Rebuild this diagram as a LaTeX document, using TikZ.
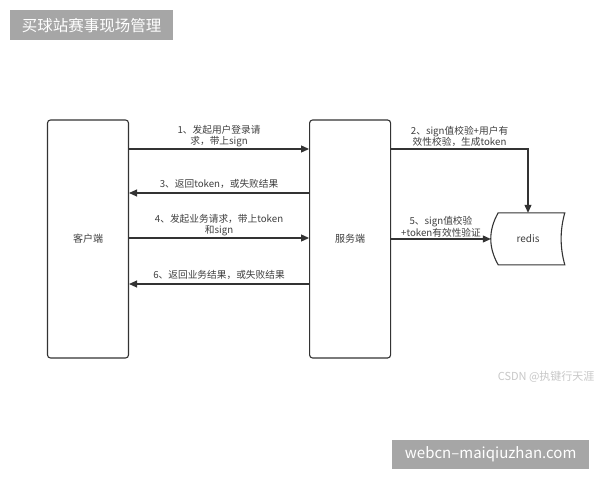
\documentclass[tikz,border=0pt]{standalone}
\usepackage{fontspec}
\setmainfont{Noto Sans CJK SC}
\usepackage{tikz}
\usetikzlibrary{arrows.meta, positioning, calc}
\definecolor{linegray}{HTML}{333333}
\definecolor{textgray}{HTML}{404040}
\definecolor{bannergray}{HTML}{A6A6A6}
\definecolor{markgray}{HTML}{C8C8C8}

\begin{document}
\begin{tikzpicture}[
    x=1pt, y=-1pt,
    font=\fontsize{9.7}{11.5}\selectfont,
    party/.style={rectangle, draw=linegray, line width=1.1pt, rounded corners=3pt, minimum width=81pt, minimum height=238pt, inner sep=0pt, font=\fontsize{10}{12}\selectfont, text=textgray},
    arrow/.style={-{Triangle[length=8pt, width=7pt]}, line width=1.1pt, draw=linegray},
    lbl/.style={align=center, text=textgray, inner sep=1.5pt},
    banner/.style={fill=bannergray, text=white, inner sep=0pt, anchor=north west},
]
\useasboundingbox[fill=white] (0,0) rectangle (600,480);

% Banners
\node[banner, minimum width=163pt, minimum height=30pt, font=\fontsize{15.5}{18}\selectfont] (title) at (10,10) {买球站赛事现场管理};
\node[banner, minimum width=197pt, minimum height=29pt, font=\fontsize{15}{18}\selectfont] (site) at (392,440) {webcn–maiqiuzhan.com};
\node[text=markgray, anchor=east, font=\fontsize{11}{13}\selectfont] (csdn) at (598,377) {CSDN @执键行天涯};

% Client and server
\node[party] (client) at (88,239) {客户端};
\node[party, right=180pt of client] (server) {服务端};

% Redis
\node[minimum width=74pt, minimum height=52pt, inner sep=0pt, text=textgray, font=\fontsize{10}{12}\selectfont] (redis) at (528,239) {redis};
\draw[linegray, line width=1.1pt, shift={(redis.north west)}] (7.4,0) -- (74,0)
    .. controls (69.1,17.3) and (69.1,34.7) .. (74,52) -- (7.4,52)
    .. controls (-2.5,34.7) and (-2.5,17.3) .. (7.4,0) -- cycle;

% Arrows: client <-> server
\draw[arrow] (client.east |- 0,149) -- node[lbl, above] {1、发起用户登录请\\求，带上sign} (server.west |- 0,149);
\draw[arrow] (server.west |- 0,193) -- node[lbl, above=2pt] {3、返回token，或失败结果} (client.east |- 0,193);
\draw[arrow] (client.east |- 0,238) -- node[lbl, above] {4、发起业务请求，带上token\\和sign} (server.west |- 0,238);
\draw[arrow] (server.west |- 0,284) -- node[lbl, above=2pt] {6、返回业务结果，或失败结果} (client.east |- 0,284);

% Arrows: server -> redis
\draw[arrow] (server.east |- 0,149) -| node[lbl, above, pos=0.25] {2、sign值校验+用户有\\效性校验，生成token} (redis.north);
\draw[arrow] (server.east |- redis.west) -- node[lbl, above] {5、sign值校验\\+token有效性验证} (redis.west);

\end{tikzpicture}
\end{document}
